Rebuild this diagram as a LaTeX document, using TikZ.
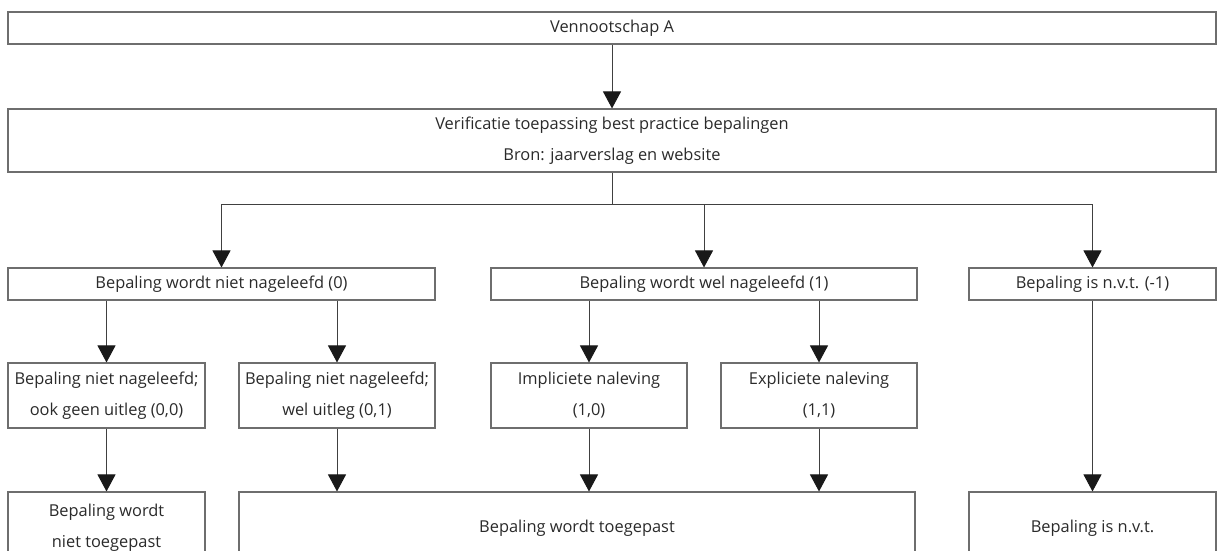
\documentclass[tikz,border=0pt]{standalone}
\usepackage{fontspec}
\setmainfont{Open Sans}
\usetikzlibrary{arrows.meta}
\definecolor{boxline}{HTML}{6E6E6E}
\definecolor{conline}{HTML}{404040}
\definecolor{txt}{HTML}{2A2A2A}
\tikzset{
  box/.style={draw=boxline, line width=1.1pt, rectangle, inner sep=0pt,
    text=txt, align=center, font=\fontsize{16.4}{31}\selectfont},
  arr/.style={draw=conline, line width=1pt,
    -{Triangle[width=18pt,length=17pt,color=black!90,fill=black!90]}},
  con/.style={draw=conline, line width=1pt},
}
\begin{document}
\begin{tikzpicture}[x=1pt,y=-1pt]
\useasboundingbox (0,0) rectangle (1217,550);
\begin{scope}
\clip (0,0) rectangle (1217,550);
\node[box, minimum width=1208pt, minimum height=32pt] (top) at (612,28) {Vennootschap A};
\node[box, minimum width=1208pt, minimum height=63pt] (verif) at (612,140.5) {Verificatie toepassing best practice bepalingen\\Bron: jaarverslag en website};
\node[box, minimum width=427pt, minimum height=32pt] (niet) at (221.5,284) {Bepaling wordt niet nageleefd (0)};
\node[box, minimum width=426pt, minimum height=32pt] (wel) at (704,284) {Bepaling wordt wel nageleefd (1)};
\node[box, minimum width=247pt, minimum height=32pt] (nvt) at (1092.5,284) {Bepaling is n.v.t. (-1)};
\node[box, minimum width=197pt, minimum height=65pt] (nn) at (106.5,395.5) {Bepaling niet nageleefd;\\ook geen uitleg (0,0)};
\node[box, minimum width=196pt, minimum height=65pt] (nu) at (337,395.5) {Bepaling niet nageleefd;\\wel uitleg (0,1)};
\node[box, minimum width=196pt, minimum height=65pt] (imp) at (589,395.5) {Impliciete naleving\\(1,0)};
\node[box, minimum width=196pt, minimum height=65pt] (exp) at (819,395.5) {Expliciete naleving\\(1,1)};
\node[box, minimum width=197pt, minimum height=72pt] (bnt) at (106.5,528) {Bepaling wordt\\niet toegepast};
\node[box, minimum width=676pt, minimum height=72pt] (bt) at (577,528) {Bepaling wordt toegepast};
\node[box, minimum width=247pt, minimum height=72pt] (bnvt) at (1092.5,528) {Bepaling is n.v.t.};
\coordinate (bus) at (612,204);
\draw[arr] (top.south) -- (verif.north);
\draw[con] (verif.south) -- (bus);
\draw[arr] (bus) -| (niet.north);
\draw[arr] (bus) -| (wel.north);
\draw[arr] (bus) -| (nvt.north);
\draw[arr] (nn.north |- niet.south) -- (nn.north);
\draw[arr] (nu.north |- niet.south) -- (nu.north);
\draw[arr] (imp.north |- wel.south) -- (imp.north);
\draw[arr] (exp.north |- wel.south) -- (exp.north);
\draw[arr] (nn.south) -- (bnt.north);
\draw[arr] (nu.south) -- (nu.south |- bt.north);
\draw[arr] (imp.south) -- (imp.south |- bt.north);
\draw[arr] (exp.south) -- (exp.south |- bt.north);
\draw[arr] (nvt.south) -- (bnvt.north);
\end{scope}
\end{tikzpicture}
\end{document}
